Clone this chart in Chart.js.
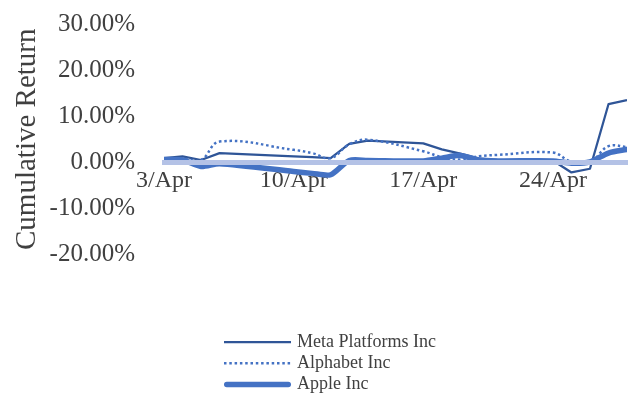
<!DOCTYPE html>
<html>
<head>
<meta charset="utf-8">
<script src="https://cdn.jsdelivr.net/npm/chart.js@4.4.1/dist/chart.umd.min.js"></script>
<style>
  html, body { margin: 0; padding: 0; background: #ffffff; }
  #wrap { width: 631px; height: 396px; }
</style>
</head>
<body>
<div id="wrap"><canvas id="c" width="631" height="396"></canvas></div>
<script>
// Trading days of April (day of month)
const days = [3, 4, 5, 6, 10, 11, 12, 13, 14, 17, 18, 19, 20, 21, 24, 25, 26, 27, 28];
// Cumulative returns, percent
const meta     = [0.9, 1.3, 0.5, 2.0, 1.3, 1.1, 0.9, 4.0, 4.7, 4.1, 2.8, 1.9, 0.8, 0.5, 0.4, -2.2, -1.4, 12.6, 13.5];
const alphabet = [0.7, 0.8, 0.5, 4.5, 2.7, 2.0, 0.9, 3.9, 4.9, 2.4, 1.1, 0.6, 1.3, 1.6, 2.1, 0.1, 0.0, 3.5, 3.3];
const apple    = [0.6, 0.5, -0.9, -0.3, -2.0, -2.4, -2.7, 0.4, 0.4, 0.3, 0.9, 1.5, 0.5, 0.3, 0.3, -0.2, 0.1, 2.0, 2.8];
const seriesNames = ['Meta Platforms Inc', 'Alphabet Inc', 'Apple Inc'];
const xTickDays = [3, 10, 17, 24];
const monthLabel = 'Apr';
const yTicks = [-20, -10, 0, 10, 20, 30];

const pts = arr => days.map((d, i) => ({ x: d, y: arr[i] }));
const FONT = '"Liberation Serif", "Times New Roman", serif';
const TEXT = '#404040';

const legendPlugin = {
  id: 'stackedLegend',
  afterDraw(chart) {
    const ctx = chart.ctx;
    const x0 = 224, x1 = 291, tx = 297, y0 = 342, dy = 21.3;
    chart.data.datasets.forEach((ds, i) => {
      const y = y0 + i * dy;
      ctx.save();
      ctx.strokeStyle = ds.borderColor;
      ctx.lineWidth = ds.borderWidth;
      ctx.setLineDash(ds.borderDash || []);
      ctx.lineCap = ds.borderCapStyle || 'butt';
      const inset = ctx.lineCap === 'round' ? ds.borderWidth / 2 : 0;
      ctx.beginPath();
      ctx.moveTo(x0 + inset, y);
      ctx.lineTo(x1 - inset, y);
      ctx.stroke();
      ctx.setLineDash([]);
      ctx.fillStyle = TEXT;
      ctx.font = '18px ' + FONT;
      ctx.textBaseline = 'middle';
      ctx.textAlign = 'left';
      ctx.fillText(ds.label, tx, y);
      ctx.restore();
    });
  }
};

new Chart(document.getElementById('c'), {
  type: 'line',
  data: {
    datasets: [
      { label: seriesNames[0], data: pts(meta), borderColor: '#2f5597', borderWidth: 2.25,
        tension: 0, pointRadius: 0, order: 2, borderJoinStyle: 'round' },
      { label: seriesNames[1], data: pts(alphabet), borderColor: '#4472c4', borderWidth: 2.5,
        borderDash: [2.5, 2.8], tension: 0.4, pointRadius: 0, order: 1 },
      { label: seriesNames[2], data: pts(apple), borderColor: '#4472c4', borderWidth: 5.5,
        tension: 0.25, pointRadius: 0, order: 0, borderCapStyle: 'round', borderJoinStyle: 'round' }
    ]
  },
  options: {
    responsive: false,
    animation: false,
    devicePixelRatio: 1,
    layout: { padding: { top: 24, bottom: 141.5, left: 0, right: 4 } },
    plugins: { legend: { display: false }, tooltip: { enabled: false } },
    scales: {
      x: {
        type: 'linear',
        position: { y: 0 },
        min: 3, max: 28,
        afterBuildTicks: s => { s.ticks = xTickDays.map(v => ({ value: v })); },
        afterFit: s => { s.height = 0; s.paddingLeft = 0; s.paddingRight = 0; },
        ticks: {
          callback: v => v + '/' + monthLabel,
          font: { family: FONT, size: 24 },
          color: TEXT,
          padding: 4,
          maxRotation: 0,
          autoSkip: false
        },
        grid: { display: true, drawOnChartArea: false, drawTicks: false, color: 'rgba(0,0,0,0)' },
        border: { display: true, color: '#b4c2e6', width: 5, z: 1 }
      },
      y: {
        min: -20, max: 30,
        afterBuildTicks: s => { s.ticks = yTicks.map(v => ({ value: v })); },
        afterFit: s => { s.width = 164; s.paddingTop = 0; s.paddingBottom = 0; },
        ticks: {
          callback: v => v.toFixed(2) + '%',
          font: { family: FONT, size: 25 },
          color: TEXT,
          padding: 21
        },
        grid: { display: false },
        border: { display: false },
        title: {
          display: true,
          text: 'Cumulative Return',
          font: { family: FONT, size: 29 },
          color: TEXT,
          padding: { top: 10, bottom: 0 }
        }
      }
    }
  },
  plugins: [legendPlugin]
});
</script>
</body>
</html>
